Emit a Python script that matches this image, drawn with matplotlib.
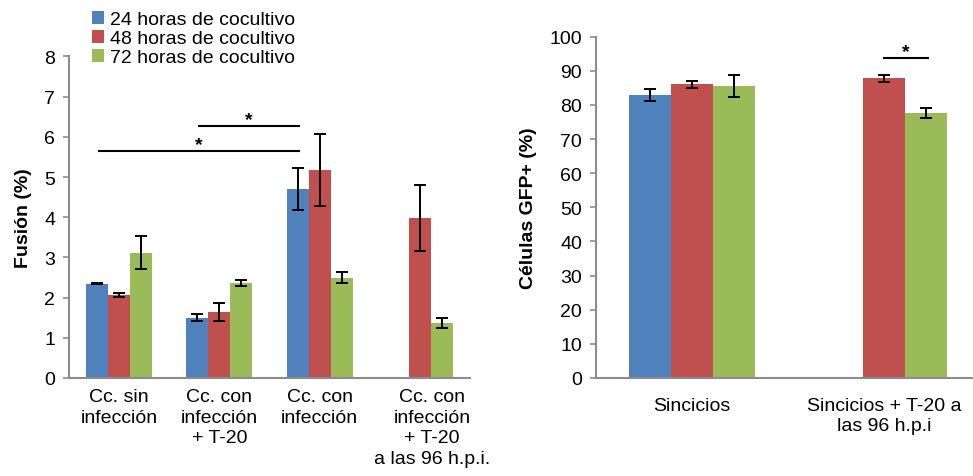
import numpy as np
import matplotlib
matplotlib.use("Agg")
import matplotlib.pyplot as plt
import matplotlib.transforms as mtransforms

plt.rcParams["font.family"] = ["Liberation Sans", "DejaVu Sans"]

series = ["24 horas de cocultivo", "48 horas de cocultivo", "72 horas de cocultivo"]
colors = ["#4F81BD", "#C0504D", "#9BBB59"]

# Fusión (%)
fusion_cats = ["Cc. sin\ninfección", "Cc. con\ninfección\n+ T-20", "Cc. con\ninfección",
               "Cc. con\ninfección\n+ T-20\na las 96 h.p.i."]
fusion_24 = [2.35, 1.50, 4.70, np.nan]
fusion_48 = [2.07, 1.64, 5.17, 3.98]
fusion_72 = [3.12, 2.36, 2.50, 1.36]
fusion_24_err = [0.01, 0.08, 0.52, np.nan]
fusion_48_err = [0.05, 0.22, 0.90, 0.83]
fusion_72_err = [0.42, 0.08, 0.13, 0.12]

# Células GFP+ (%)
gfp_cats = ["Sincicios", "Sincicios + T-20 a\nlas 96 h.p.i"]
gfp_24 = [82.9, np.nan]
gfp_48 = [86.1, 87.8]
gfp_72 = [85.5, 77.7]
gfp_24_err = [1.8, np.nan]
gfp_48_err = [1.0, 1.0]
gfp_72_err = [3.2, 1.4]

FS = 14
width = 0.22
spine_col = "#8c8c8c"


def grouped_bars(ax, values, errors):
    x = np.arange(len(values[0]))
    handles = []
    for i, (vals, errs) in enumerate(zip(values, errors)):
        pos = x + (i - 1) * width
        h = ax.bar(pos, vals, width, color=colors[i], label=series[i], zorder=2)
        ax.errorbar(pos, vals, yerr=errs, fmt="none", ecolor="black",
                    elinewidth=1.4, capsize=4, capthick=1.4, zorder=3)
        handles.append(h)
    return handles


def style_axes(ax):
    for s in ["top", "right"]:
        ax.spines[s].set_visible(False)
    for s in ["left", "bottom"]:
        ax.spines[s].set_color(spine_col)
        ax.spines[s].set_linewidth(1.5)
    ax.tick_params(axis="y", direction="out", length=4, width=1.2,
                   color=spine_col, labelsize=FS, pad=6)
    ax.tick_params(axis="x", length=0, labelsize=FS, pad=8)


def sig_line(ax, x0, x1, y, star_dy):
    ax.plot([x0, x1], [y, y], color="black", lw=1.5, zorder=4)
    ax.text((x0 + x1) / 2, y + star_dy, "*", ha="center", va="center",
            fontsize=FS, fontweight="bold")


fig = plt.figure(figsize=(9.73, 4.77), dpi=100)

# panel izquierdo: fusión
ax1 = fig.add_axes([0.0709, 0.2055, 0.4121, 0.674])
handles = grouped_bars(ax1, [fusion_24, fusion_48, fusion_72],
                       [fusion_24_err, fusion_48_err, fusion_72_err])
ax1.set_xlim(-0.5, 3.5)
ax1.set_ylim(0, 8)
ax1.set_yticks(range(0, 9))
ax1.set_xticks(range(4))
ax1.set_xticklabels(fusion_cats, linespacing=1.3)
ax1.set_ylabel("Fusión (%)", fontsize=FS, fontweight="bold", labelpad=9)
style_axes(ax1)
ax1.tick_params(axis="x", pad=7)
# la última etiqueta queda algo desplazada a la derecha
last = ax1.get_xticklabels()[-1]
last.set_transform(last.get_transform() +
                   mtransforms.ScaledTranslation(0.12, 0, fig.dpi_scale_trans))
sig_line(ax1, 0.8, 1.79, 6.27, 0.16)
sig_line(ax1, -0.2, 1.79, 5.64, 0.16)

fig.legend(handles=handles, labels=series, loc="upper left",
           bbox_to_anchor=(0.093, 0.978), frameon=False, fontsize=FS,
           handlelength=0.6, handleheight=0.6, handletextpad=0.3,
           labelspacing=0.1, borderpad=0.1, borderaxespad=0)

# panel derecho: células GFP+
ax2 = fig.add_axes([0.6125, 0.2055, 0.3947, 0.7155])
grouped_bars(ax2, [gfp_24, gfp_48, gfp_72], [gfp_24_err, gfp_48_err, gfp_72_err])
ax2.set_xlim(-0.5, 1.5)
ax2.set_ylim(0, 100)
ax2.set_yticks(range(0, 101, 10))
ax2.set_xticks(range(2))
ax2.set_xticklabels(gfp_cats, linespacing=1.2)
ax2.set_ylabel("Células GFP+ (%)", fontsize=FS, fontweight="bold", labelpad=9)
style_axes(ax2)
ax2.tick_params(axis="x", pad=14)
sig_line(ax2, 1.0, 1.23, 93.7, 2.0)

fig.savefig("out.png", dpi=100)
